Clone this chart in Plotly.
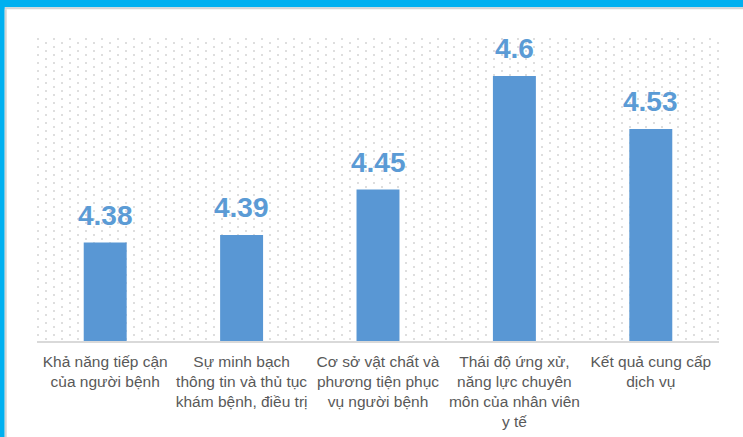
import base64
import plotly.graph_objects as go

categories = [
    "Khả năng tiếp cận<br>của người bệnh",
    "Sự minh bạch<br>thông tin và thủ tục<br>khám bệnh, điều trị",
    "Cơ sở vật chất và<br>phương tiện phục<br>vụ người bệnh",
    "Thái độ ứng xử,<br>năng lực chuyên<br>môn của nhân viên<br>y tế",
    "Kết quả cung cấp<br>dịch vụ",
]
scores = [4.38, 4.39, 4.45, 4.60, 4.53]
score_labels = ["4.38", "4.39", "4.45", "4.6", "4.53"]

W, H = 743, 437
L, R, T, B = 37, 24, 38, 96
PW, PH = W - L - R, H - T - B

def px(x):
    return (x - L) / PW

def py(y):
    return 1 - (y - T) / PH

FONT = "Liberation Sans, Arial, sans-serif"

fig = go.Figure()
fig.add_trace(go.Bar(
    x=categories, y=scores,
    marker=dict(color="#5997d4", line=dict(width=0)),
    hoverinfo="skip",
))

for c, v, t in zip(categories, scores, score_labels):
    fig.add_annotation(
        x=c, y=v, text=f"<b>{t}</b>", showarrow=False,
        yanchor="bottom", yshift=10,
        font=dict(family=FONT, size=28, color="#5b9bd5"),
    )

# dotted background pattern
svg = (
    f'<svg xmlns="http://www.w3.org/2000/svg" width="{PW}" height="{PH}">'
    '<defs><pattern id="p" width="16" height="8" patternUnits="userSpaceOnUse">'
    '<rect x="0" y="0" width="2" height="2" fill="#dedede"/>'
    '<rect x="8" y="4" width="2" height="2" fill="#dedede"/>'
    '</pattern></defs>'
    f'<rect width="{PW}" height="{PH}" fill="url(#p)"/></svg>'
)
src = "data:image/svg+xml;base64," + base64.b64encode(svg.encode()).decode()
fig.add_layout_image(
    source=src, xref="paper", yref="paper", x=0, y=1, sizex=1, sizey=1,
    xanchor="left", yanchor="top", sizing="stretch", layer="below",
)

shapes = [
    dict(type="rect", xref="paper", yref="paper", x0=px(0), x1=px(W), y0=py(0), y1=py(7.3),
         fillcolor="#00b0f0", line=dict(width=0), layer="above"),
    dict(type="rect", xref="paper", yref="paper", x0=px(4.7), x1=px(W), y0=py(7.3), y1=py(9.3),
         fillcolor="#d4d4d4", line=dict(width=0), layer="above"),
    dict(type="rect", xref="paper", yref="paper", x0=px(0), x1=px(4.7), y0=py(0), y1=py(H),
         fillcolor="#00b0f0", line=dict(width=0), layer="above"),
    dict(type="rect", xref="paper", yref="paper", x0=px(4.7), x1=px(6.7), y0=py(9.3), y1=py(H),
         fillcolor="#d4d4d4", line=dict(width=0), layer="above"),
]

fig.update_layout(
    width=W, height=H,
    margin=dict(l=L, r=R, t=T, b=B, autoexpand=False),
    paper_bgcolor="white", plot_bgcolor="rgba(0,0,0,0)",
    showlegend=False, bargap=0.685,
    shapes=shapes,
    font=dict(family=FONT, color="#595959"),
    xaxis=dict(
        showgrid=False, showline=True, linecolor="#d9d9d9", linewidth=2,
        ticks="", tickfont=dict(family=FONT, size=15.5, color="#595959"),
        ticklabelstandoff=5, fixedrange=True, automargin=False,
    ),
    yaxis=dict(range=[4.25, 4.65], visible=False, fixedrange=True, automargin=False),
)

fig.write_html(
    "out.html",
    config={"displayModeBar": False, "staticPlot": True},
    post_script="document.body.style.margin='0';document.body.style.overflow='hidden';",
)
